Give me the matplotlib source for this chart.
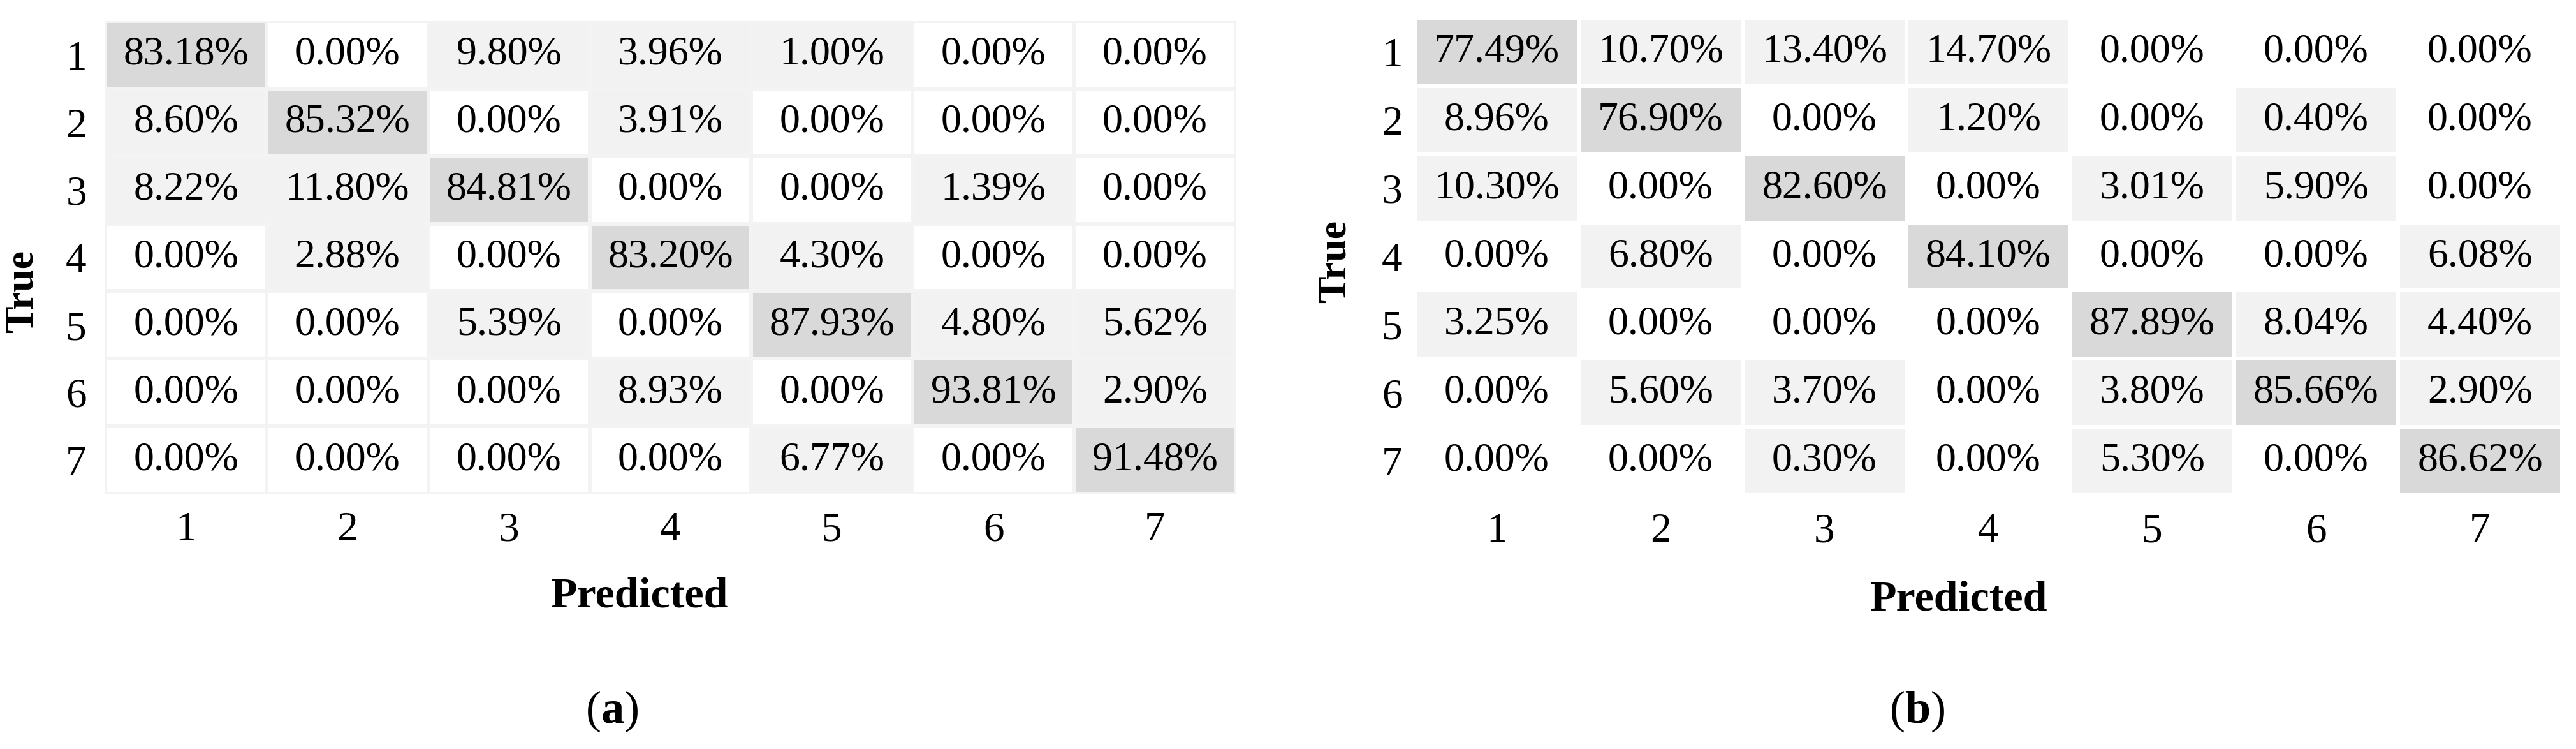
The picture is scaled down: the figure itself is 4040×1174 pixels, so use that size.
import matplotlib
matplotlib.use("Agg")
import matplotlib.pyplot as plt
import numpy as np
from matplotlib.colors import ListedColormap, BoundaryNorm

plt.rcParams['font.family'] = ['Liberation Serif', 'DejaVu Serif']
plt.rcParams['mathtext.fontset'] = 'custom'
plt.rcParams['mathtext.rm'] = 'Liberation Serif'
plt.rcParams['mathtext.bf'] = 'Liberation Serif:bold'

classes = ['1', '2', '3', '4', '5', '6', '7']

# confusion matrices, percent, rows = true, cols = predicted
cm_a = [
    [83.18, 0.00, 9.80, 3.96, 1.00, 0.00, 0.00],
    [8.60, 85.32, 0.00, 3.91, 0.00, 0.00, 0.00],
    [8.22, 11.80, 84.81, 0.00, 0.00, 1.39, 0.00],
    [0.00, 2.88, 0.00, 83.20, 4.30, 0.00, 0.00],
    [0.00, 0.00, 5.39, 0.00, 87.93, 4.80, 5.62],
    [0.00, 0.00, 0.00, 8.93, 0.00, 93.81, 2.90],
    [0.00, 0.00, 0.00, 0.00, 6.77, 0.00, 91.48],
]
cm_b = [
    [77.49, 10.70, 13.40, 14.70, 0.00, 0.00, 0.00],
    [8.96, 76.90, 0.00, 1.20, 0.00, 0.40, 0.00],
    [10.30, 0.00, 82.60, 0.00, 3.01, 5.90, 0.00],
    [0.00, 6.80, 0.00, 84.10, 0.00, 0.00, 6.08],
    [3.25, 0.00, 0.00, 0.00, 87.89, 8.04, 4.40],
    [0.00, 5.60, 3.70, 0.00, 3.80, 85.66, 2.90],
    [0.00, 0.00, 0.30, 0.00, 5.30, 0.00, 86.62],
]

W, H = 4041, 1174
fig = plt.figure(figsize=(W / 100, H / 100), dpi=100)

# three grey levels: zero, small, diagonal-size
cmap = ListedColormap(['#ffffff', '#f2f2f2', '#d9d9d9'])
norm = BoundaryNorm([-1, 0.001, 50, 101], cmap.N)


def px_axes(x0, y0, x1, y1):
    return fig.add_axes([x0 / W, 1 - y1 / H, (x1 - x0) / W, (y1 - y0) / H])


def draw(ax, data, gap_color, ypad):
    data = np.array(data)
    ax.pcolormesh(data, cmap=cmap, norm=norm, edgecolors=gap_color, linewidth=4.3)
    for i in range(data.shape[0]):
        for j in range(data.shape[1]):
            ax.text(j + 0.5, i + 0.5, f"{data[i, j]:.2f}%", ha='center', va='center',
                    fontsize=46)
    ax.set_xlim(0, 7)
    ax.set_ylim(7, 0)
    ax.set_xticks(np.arange(7) + 0.5)
    ax.set_xticklabels(classes, fontsize=47)
    ax.set_yticks(np.arange(7) + 0.5)
    ax.set_yticklabels(classes, fontsize=47)
    ax.tick_params(length=0)
    ax.tick_params(axis='x', pad=20)
    ax.tick_params(axis='y', pad=ypad)
    for s in ax.spines.values():
        s.set_visible(False)


ax_a = px_axes(165, 33, 1938, 774)
draw(ax_a, cm_a, '#f3f3f3', 21)
ax_b = px_axes(2219, 28, 4018, 776)
draw(ax_b, cm_b, '#ffffff', 14)

fig.text(1003 / W, 1 - 935 / H, "Predicted", ha='center', va='center',
         fontsize=49, fontweight='bold')
fig.text(3072 / W, 1 - 940 / H, "Predicted", ha='center', va='center',
         fontsize=49, fontweight='bold')
fig.text(36 / W, 1 - 457 / H, "True", ha='center', va='center', rotation=90,
         fontsize=46, fontweight='bold')
fig.text(2095 / W, 1 - 410 / H, "True", ha='center', va='center', rotation=90,
         fontsize=46, fontweight='bold')
fig.text(960 / W, 1 - 1115 / H, r"($\mathbf{a}$)", ha='center', va='center', fontsize=52)
fig.text(3007 / W, 1 - 1115 / H, r"($\mathbf{b}$)", ha='center', va='center', fontsize=52)

fig.savefig("out.png", dpi=100, facecolor='white')
